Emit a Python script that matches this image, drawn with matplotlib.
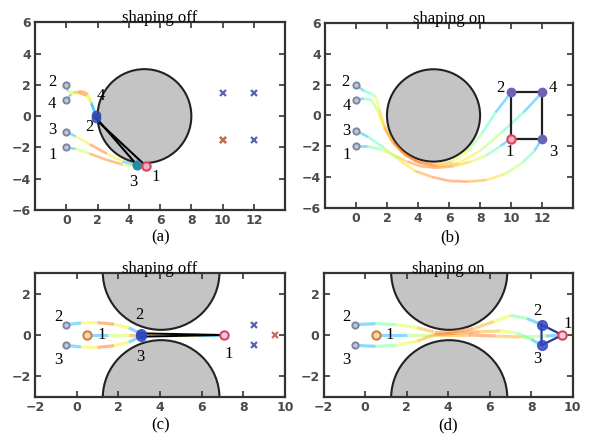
import numpy as np
import matplotlib.pyplot as plt
from matplotlib.patches import Circle
from matplotlib.collections import LineCollection

# ---- data ----
# start positions (same in both runs of each scenario)
starts_ab_x = [0, 0, 0, 0]
starts_ab_y = [-2, 2, -1, 1]          # robots 1, 2, 3, 4
goals_ab_x = [10, 10, 12, 12]
goals_ab_y = [-1.5, 1.5, -1.5, 1.5]

# (a) shaping off: trajectories, robots 1..4
paths_a = [
    ([0, 0.6, 1.5, 2.6, 3.6, 4.5, 5.1], [-2, -2.1, -2.4, -2.8, -3.1, -3.2, -3.2]),
    ([0, 0.1, 0.5, 1.0, 1.4, 1.6, 1.9], [2, 1.6, 1.5, 1.6, 1.4, 0.9, -0.1]),
    ([0, 0.6, 1.5, 2.6, 3.6, 4.5], [-1, -1.3, -1.8, -2.4, -2.9, -3.1]),
    ([0, 0.3, 0.8, 1.3, 1.6, 1.9], [1, 1.4, 1.5, 1.3, 0.8, 0.1]),
]
ends_a_x = [5.1, 1.9, 4.5, 1.9]
ends_a_y = [-3.2, -0.1, -3.1, 0.1]

# (b) shaping on
paths_b = [
    ([0, 0.7, 1.6, 2.5, 3.3, 4.2, 5.2, 6.3, 7.4, 8.4, 9.3, 10],
     [-2, -2.0, -2.2, -2.6, -3.0, -3.3, -3.4, -3.3, -3.0, -2.6, -2.0, -1.5]),
    ([0, 0.5, 1.0, 1.3, 1.5, 1.8, 2.3, 3.0, 3.9, 5.0, 6.2, 7.2, 8.1, 9.0, 10],
     [2, 1.6, 1.4, 1.2, 0.4, -0.6, -1.6, -2.4, -3.0, -3.2, -3.0, -2.3, -1.2, 0.2, 1.5]),
    ([0, 0.8, 1.8, 2.8, 3.8, 4.9, 6.0, 7.2, 8.4, 9.6, 10.7, 11.5, 12],
     [-1, -1.4, -2.1, -2.9, -3.6, -4.0, -4.25, -4.3, -4.2, -3.8, -3.1, -2.3, -1.5]),
    ([0, 0.5, 1.0, 1.4, 1.8, 2.4, 3.2, 4.2, 5.3, 6.6, 8.0, 9.4, 10.8, 12],
     [1, 1.1, 1.0, 0.3, -0.8, -1.8, -2.6, -3.1, -3.3, -3.1, -2.3, -1.1, 0.2, 1.5]),
]

# (c)/(d) narrow passage, robots 1..3
starts_cd_x = [0.5, -0.5, -0.5]
starts_cd_y = [0, 0.5, -0.5]
goals_cd_x = [9.5, 8.5, 8.5]
goals_cd_y = [0, 0.5, -0.5]

paths_c = [
    ([0.5, 1.5, 2.5, 3.1, 4.5, 5.8, 7.0], [0, 0, 0, 0, 0, 0, 0]),
    ([-0.5, 0.2, 1.0, 1.8, 2.5, 3.1], [0.5, 0.58, 0.6, 0.52, 0.35, 0.05]),
    ([-0.5, 0.2, 1.0, 1.8, 2.5, 3.1], [-0.5, -0.58, -0.6, -0.52, -0.35, -0.05]),
]
ends_c_x = [7.05, 3.1, 3.1]
ends_c_y = [0, 0.05, -0.05]

paths_d = [
    ([0.5, 2.0, 3.5, 5.0, 6.3, 7.5, 8.7, 9.5], [0, 0, 0, 0, -0.05, -0.1, -0.05, 0]),
    ([-0.5, 0.5, 1.5, 2.5, 3.3, 4.2, 5.2, 6.2, 7.0, 7.8, 8.5],
     [0.5, 0.55, 0.5, 0.35, 0.15, 0.15, 0.3, 0.65, 0.95, 0.8, 0.5]),
    ([-0.5, 0.5, 1.5, 2.5, 3.3, 4.5, 5.5, 6.5, 7.3, 8.0, 8.5],
     [-0.5, -0.55, -0.5, -0.3, 0.0, 0.1, 0.15, 0.2, 0.1, -0.2, -0.5]),
]

plt.rcParams['font.family'] = 'DejaVu Sans'
serif = 'Liberation Serif'
cmap = plt.get_cmap('jet')


def draw_path(ax, xs, ys, lw=1.9):
    pts = np.column_stack([xs, ys])
    segs = np.stack([pts[:-1], pts[1:]], axis=1)
    t = np.linspace(0, 1, len(segs))
    cols = cmap(0.3 + 0.5 * np.sin(np.pi * t))
    lc = LineCollection(segs, colors=cols, linewidths=lw, alpha=0.45,
                        capstyle='butt', joinstyle='miter')
    ax.add_collection(lc)


def style(ax, xlim, ylim, xt, yt, title):
    ax.set_xlim(*xlim)
    ax.set_ylim(*ylim)
    ax.set_xticks(xt)
    ax.set_yticks(yt)
    ax.tick_params(direction='in', top=True, right=True, length=4, width=1.2,
                   labelsize=9, labelcolor='#4a4a4a', color='#333333', pad=3)
    for lab in ax.get_xticklabels() + ax.get_yticklabels():
        lab.set_fontweight('bold')
    for s in ax.spines.values():
        s.set_linewidth(1.6)
        s.set_color('#333333')
    ax.set_title(title, family=serif, fontsize=12, pad=0)


def num(ax, x, y, s):
    ax.text(x, y, s, family=serif, fontsize=12, ha='center', va='center')


fig = plt.figure(figsize=(5.94, 4.44), dpi=100)
ax_a = fig.add_axes([0.059, 0.527, 0.421, 0.423])
ax_b = fig.add_axes([0.547, 0.532, 0.418, 0.416])
ax_c = fig.add_axes([0.059, 0.106, 0.421, 0.279])
ax_d = fig.add_axes([0.545, 0.106, 0.419, 0.279])

grey = '#c4c4c4'
start_kw = dict(marker='o', ms=4.5, mfc='#c8c8c8', mec='#7a86a8', mew=1.4, ls='none', zorder=4)

# ---- (a) ----
ax = ax_a
ax.add_patch(Circle((5, 0), 3, fc=grey, ec='#222222', lw=1.5, zorder=1))
for xs, ys in paths_a:
    draw_path(ax, xs, ys)
ax.plot([1.9, 4.5], [-0.1, -3.1], color='black', lw=1.5, zorder=3)
ax.plot([2.1, 5.0], [-0.4, -3.1], color='black', lw=1.5, zorder=3)
ax.plot(starts_ab_x, starts_ab_y, **start_kw)
ax.plot(goals_ab_x, goals_ab_y, 'x', color='#5a64b4', ms=5, mew=1.6, zorder=4)
ax.plot(goals_ab_x[0], goals_ab_y[0], 'x', color='#d06a3a', ms=5, mew=1.6, zorder=5)
ax.plot(ends_a_x[1:], ends_a_y[1:], 'o', ms=6, color='#3048b0', alpha=0.8, zorder=5)
ax.plot(ends_a_x[2], ends_a_y[2], 'o', ms=6, color='#2a8aa0', zorder=5)
ax.plot(ends_a_x[0], ends_a_y[0], 'o', ms=6, mfc='#f0b0c0', mec='#e04060', mew=1.5, zorder=5)
for x, y, s in [(-0.9, 2.2, '2'), (-0.9, 0.8, '4'), (-0.9, -0.9, '3'), (-0.9, -2.5, '1'),
                (2.2, 1.3, '4'), (1.5, -0.7, '2'), (4.3, -4.2, '3'), (5.7, -3.9, '1')]:
    num(ax, x, y, s)
style(ax, (-2, 14), (-6, 6), range(0, 13, 2), range(-6, 7, 2), 'shaping off')

# ---- (b) ----
ax = ax_b
ax.add_patch(Circle((5, 0), 3, fc=grey, ec='#222222', lw=1.5, zorder=1))
for xs, ys in paths_b:
    draw_path(ax, xs, ys)
sq_x = [goals_ab_x[1], goals_ab_x[3], goals_ab_x[2], goals_ab_x[0], goals_ab_x[1]]
sq_y = [goals_ab_y[1], goals_ab_y[3], goals_ab_y[2], goals_ab_y[0], goals_ab_y[1]]
ax.plot(sq_x, sq_y, color='#222222', lw=1.6, zorder=3)
ax.plot(starts_ab_x, starts_ab_y, **start_kw)
ax.plot(goals_ab_x[1:], goals_ab_y[1:], 'o', ms=6, color='#6a64b8', zorder=5)
ax.plot(goals_ab_x[0], goals_ab_y[0], 'o', ms=6, mfc='#f0b0c0', mec='#e04060', mew=1.5, zorder=5)
for x, y, s in [(-0.7, 2.2, '2'), (-0.6, 0.6, '4'), (-0.6, -1.0, '3'), (-0.6, -2.6, '1'),
                (9.3, 1.8, '2'), (12.7, 1.8, '4'), (9.9, -2.4, '1'), (12.7, -2.4, '3')]:
    num(ax, x, y, s)
style(ax, (-2, 14), (-6, 6), range(0, 13, 2), range(-6, 7, 2), 'shaping on')

# ---- (c) and (d) ----
for ax, paths, title in [(ax_c, paths_c, 'shaping off'), (ax_d, paths_d, 'shaping on')]:
    ax.add_patch(Circle((4.05, 3.05), 2.8, fc=grey, ec='#222222', lw=1.5, zorder=1))
    ax.add_patch(Circle((4.05, -3.05), 2.8, fc=grey, ec='#222222', lw=1.5, zorder=1))
    for xs, ys in paths:
        draw_path(ax, xs, ys, lw=2.3)
    ax.plot(starts_cd_x[1:], starts_cd_y[1:], **start_kw)
    ax.plot(starts_cd_x[0], starts_cd_y[0], 'o', ms=6, mfc='#f5d8b0', mec='#d08040', mew=1.5,
            ls='none', zorder=4)
    num(ax, -0.9, 0.85, '2')
    num(ax, -0.9, -1.2, '3')
    num(ax, 1.2, 0.0, '1')
    style(ax, (-2, 10), (-3, 3), range(-2, 11, 2), [-2, 0, 2], title)

ax = ax_c
ax.plot([3.1, 7.05], [0.08, 0], color='black', lw=1.4, zorder=3)
ax.plot([3.1, 7.05], [-0.08, 0], color='black', lw=1.4, zorder=3)
ax.plot(ends_c_x[1:], ends_c_y[1:], 'o', ms=7, color='#3048c0', alpha=0.8, zorder=5)
ax.plot(ends_c_x[0], ends_c_y[0], 'o', ms=6, mfc='#f8d0d8', mec='#e04060', mew=1.5, zorder=5)
ax.plot(goals_cd_x[1:], goals_cd_y[1:], 'x', color='#5a64b4', ms=5, mew=1.6, zorder=4)
ax.plot(goals_cd_x[0], goals_cd_y[0], 'x', color='#d06a6a', ms=5, mew=1.6, zorder=4)
num(ax, 3.0, 0.95, '2')
num(ax, 3.05, -1.07, '3')
num(ax, 7.3, -0.9, '1')

ax = ax_d
tri_x = [goals_cd_x[1], goals_cd_x[0], goals_cd_x[2], goals_cd_x[1]]
tri_y = [goals_cd_y[1], goals_cd_y[0], goals_cd_y[2], goals_cd_y[1]]
ax.plot(tri_x, tri_y, color='#2a3a90', lw=1.6, zorder=3)
ax.plot(goals_cd_x[1:], goals_cd_y[1:], 'o', ms=7, color='#3048c0', alpha=0.85, zorder=5)
ax.plot(goals_cd_x[0], goals_cd_y[0], 'o', ms=6, mfc='#f8d0d8', mec='#e04060', mew=1.5, zorder=5)
num(ax, 8.3, 1.15, '2')
num(ax, 8.3, -1.15, '3')
num(ax, 9.75, 0.55, '1')

for x, y, s in [(0.27, 0.466, '(a)'), (0.758, 0.466, '(b)'),
                (0.27, 0.043, '(c)'), (0.755, 0.043, '(d)')]:
    fig.text(x, y, s, family=serif, fontsize=12, ha='center', va='center')

fig.savefig('out.png', dpi=100)
